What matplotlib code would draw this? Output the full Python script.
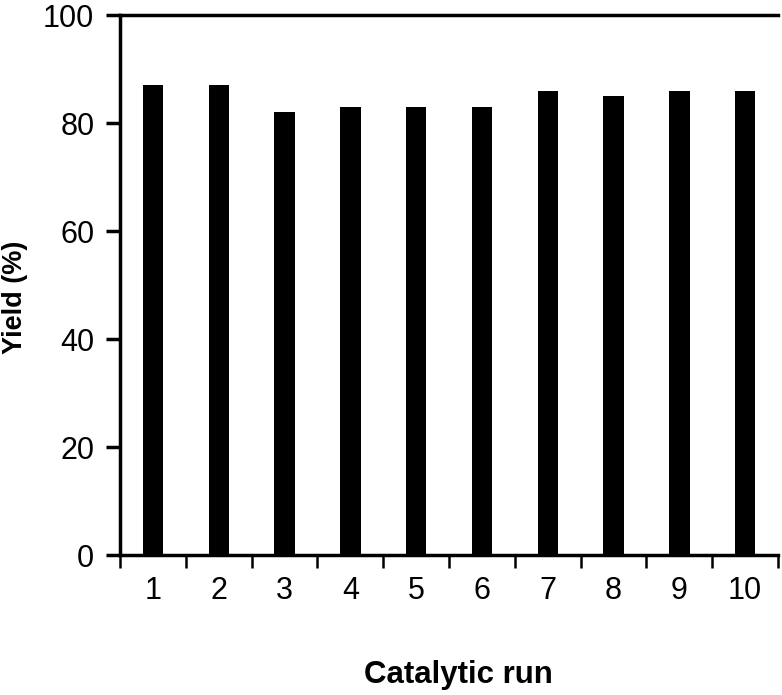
import matplotlib.pyplot as plt
import numpy as np

plt.rcParams['font.family'] = ['Liberation Sans', 'DejaVu Sans']

runs = ["1", "2", "3", "4", "5", "6", "7", "8", "9", "10"]
yields = [87, 87, 82, 83, 83, 83, 86, 85, 86, 86]

fig = plt.figure(figsize=(7.82, 6.95), dpi=100)
ax = fig.add_axes([0.1535, 0.2014, 0.8415, 0.7766])

x = np.arange(len(runs))
ax.bar(x, yields, width=0.31, color="black")

ax.set_xlim(-0.5, len(runs) - 0.5)
ax.set_ylim(0, 100)
ax.set_yticks(range(0, 101, 20))

# ticks sit between the categories, labels under the bars
ax.set_xticks(np.arange(-0.5, len(runs), 1.0))
ax.set_xticklabels([])
ax.set_xticks(x, minor=True)
ax.set_xticklabels(runs, minor=True)
ax.tick_params(axis="x", which="major", direction="out", length=9, width=1.8)
ax.tick_params(axis="x", which="minor", length=0, pad=15, labelsize=22)
ax.tick_params(axis="y", direction="out", length=10, width=2.5, labelsize=22, pad=8.5)

for side in ["left", "bottom", "top"]:
    ax.spines[side].set_linewidth(2.5)
ax.spines["right"].set_visible(False)

ax.set_xlabel("Catalytic run", fontsize=22.5, fontweight="bold")
ax.xaxis.set_label_coords(0.514, -0.195)
ax.set_ylabel("Yield (%)", fontsize=19.5, fontweight="bold")
ax.yaxis.set_label_coords(-0.14, 0.478)

fig.savefig("out.png", dpi=100)
